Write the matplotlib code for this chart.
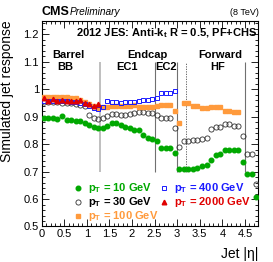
import matplotlib
matplotlib.use("Agg")
import matplotlib.pyplot as plt
from matplotlib.ticker import MultipleLocator, FuncFormatter

plt.rcParams['font.family'] = ['Liberation Sans', 'DejaVu Sans']
plt.rcParams['mathtext.fontset'] = 'custom'
plt.rcParams['mathtext.rm'] = 'Liberation Sans'
plt.rcParams['mathtext.it'] = 'Liberation Sans:italic'
plt.rcParams['mathtext.bf'] = 'Liberation Sans:bold'

# eta bin centres (0.1 wide bins, 0 - 4.8)
eta = [0.05, 0.15, 0.25, 0.35, 0.45, 0.55, 0.65, 0.75, 0.85, 0.95,
       1.05, 1.15, 1.25, 1.35, 1.45, 1.55, 1.65, 1.75, 1.85, 1.95,
       2.05, 2.15, 2.25, 2.35, 2.45, 2.55, 2.65, 2.75, 2.85, 2.95,
       3.05, 3.15, 3.25, 3.35, 3.45, 3.55, 3.65, 3.75, 3.85, 3.95,
       4.05, 4.15, 4.25, 4.35, 4.45, 4.55, 4.65, 4.75]

resp_pt10 = [0.896, 0.894, 0.894, 0.893, 0.904, 0.888, 0.888, 0.886, 0.883, 0.877,
             0.870, 0.864, 0.858, 0.858, 0.868, 0.876, 0.876, 0.870, 0.862, 0.858,
             0.852, 0.850, 0.834, 0.821, 0.820, 0.810, 0.786, 0.786, 0.786, 0.769,
             0.711, 0.711, 0.711, 0.711, 0.713, 0.720, 0.723, 0.743, 0.762, 0.764,
             0.777, 0.777, 0.777, 0.777, 0.736, 0.692, 0.692, 0.607]

resp_pt30 = [0.953, 0.953, 0.952, 0.952, 0.951, 0.950, 0.949, 0.946, 0.944, 0.938,
             0.905, 0.897, 0.892, 0.896, 0.904, 0.910, 0.910, 0.906, 0.906, 0.910,
             0.912, 0.916, 0.916, 0.914, 0.912, 0.906, 0.896, 0.896, 0.896, 0.858,
             0.789, 0.813, 0.813, 0.814, 0.815, 0.818, 0.822, 0.855, 0.862, 0.863,
             0.874, 0.874, 0.868, 0.868, 0.831, 0.763, 0.763, 0.654]

resp_pt100 = [0.973, 0.973, 0.972, 0.972, 0.971, 0.971, 0.970, 0.967, 0.962, 0.955,
              0.947, 0.940, 0.932, 0.935, 0.937, 0.938, 0.938, 0.938, 0.940, 0.940,
              0.942, 0.937, 0.937, 0.937, 0.937, 0.940, 0.942, 0.942, 0.942, 0.922,
              0.876, 0.951, 0.951, 0.938, 0.938, 0.931, 0.931, 0.936, 0.936, 0.936,
              0.922, 0.922, 0.916, 0.916]

resp_pt400 = [0.958, 0.958, 0.958, 0.957, 0.957, 0.956, 0.955, 0.954, 0.950, 0.945,
              0.940, 0.933, 0.930, 0.934, 0.958, 0.955, 0.955, 0.951, 0.953, 0.953,
              0.955, 0.959, 0.960, 0.961, 0.964, 0.970, 0.986, 0.986, 0.986, 0.993]

resp_pt2000 = [0.967, 0.959, 0.964, 0.959, 0.962, 0.959, 0.959, 0.957, 0.960, 0.950,
               0.946, 0.940, 0.945]

labels = [r'$\mathbf{p_T}$ = 10 GeV', r'$\mathbf{p_T}$ = 30 GeV', r'$\mathbf{p_T}$ = 100 GeV',
          r'$\mathbf{p_T}$ = 400 GeV', r'$\mathbf{p_T}$ = 2000 GeV']

boundaries = [1.3, 2.5, 3.0, 3.2, 4.5]
region_names = ['Barrel', 'Endcap', 'Forward']
region_names_x = [0.58, 2.34, 3.96]
sub_names = ['BB', 'EC1', 'EC2', 'HF']
sub_names_x = [0.52, 1.89, 2.75, 3.89]

c_green = '#00a800'
c_black = '#000000'
c_orange = '#ff9a3c'
c_blue = '#1a1aff'
c_red = '#e00000'

fig = plt.figure(figsize=(2.73, 2.62), dpi=100)
ax = fig.add_axes([0.1527, 0.1355, 0.794, 0.7855])

# boundaries
ax.vlines(boundaries[0], 0.7, 1.1, colors='#b4b4b4', linewidth=1.2, zorder=1)
ax.vlines(boundaries[1:3], 0.7, 1.1, colors='#707070', linewidth=0.8, zorder=1)
ax.vlines(boundaries[3], 0.7, 1.1, colors='#505050', linewidth=0.6, linestyles=(0, (1.5, 1.5)), zorder=1)
ax.vlines(boundaries[4], 0.7, 1.1, colors='#707070', linewidth=0.8, zorder=1)

ms = 3.3
h1, = ax.plot(eta[:len(resp_pt10)], resp_pt10, 'o', ms=ms, color=c_green, mec=c_green, ls='none', label=labels[0], zorder=3)
h2, = ax.plot(eta[:len(resp_pt30)], resp_pt30, 'o', ms=ms + 0.4, mfc='none', mec='#303030', mew=0.6, ls='none', label=labels[1], zorder=3)
h3, = ax.plot(eta[:len(resp_pt100)], resp_pt100, 's', ms=ms, color=c_orange, mec=c_orange, ls='none', label=labels[2], zorder=3)
h4, = ax.plot(eta[:len(resp_pt400)], resp_pt400, 's', ms=ms + 0.3, mfc='none', mec=c_blue, mew=0.7, ls='none', label=labels[3], zorder=4)
h5, = ax.plot(eta[:len(resp_pt2000)], resp_pt2000, '^', ms=ms, color=c_red, mec=c_red, ls='none', label=labels[4], zorder=5)

ax.set_xlim(0, 4.8)
ax.set_ylim(0.5, 1.25)
ax.xaxis.set_major_locator(MultipleLocator(0.5))
ax.xaxis.set_minor_locator(MultipleLocator(0.1))
ax.yaxis.set_major_locator(MultipleLocator(0.1))
ax.yaxis.set_minor_locator(MultipleLocator(0.02))
fmt = FuncFormatter(lambda v, p: '%g' % round(v, 2))
ax.xaxis.set_major_formatter(fmt)
ax.yaxis.set_major_formatter(fmt)
ax.tick_params(which='both', direction='in', top=True, right=True, labelsize=8, width=0.6, pad=2)
ax.tick_params(which='major', length=5)
ax.tick_params(which='minor', length=2.5)
for s in ax.spines.values():
    s.set_linewidth(0.8)

ax.set_ylabel('Simulated jet response', fontsize=10, loc='top')
ax.yaxis.set_label_coords(-0.13, 1.0)
ax.set_xlabel('Jet |η|', fontsize=10, loc='right')
ax.xaxis.set_label_coords(1.0, -0.1)

ax.text(0.995, 0.94, r'2012 JES: Anti-$\mathbf{k_t}$ R = 0.5, PF+CHS', transform=ax.transAxes,
        ha='right', va='center', fontsize=8, fontweight='bold')
for name, x in zip(region_names, region_names_x):
    ax.text(x, 1.125, name, ha='center', va='center', fontsize=8, fontweight='bold')
for name, x in zip(sub_names, sub_names_x):
    ax.text(x, 1.08, name, ha='center', va='center', fontsize=8, fontweight='bold')

fig.text(0.153, 0.943, 'CMS', fontsize=9, fontweight='bold', ha='left', va='baseline')
fig.text(0.254, 0.943, 'Preliminary', fontsize=7.3, style='italic', ha='left', va='baseline')
fig.text(0.949, 0.943, '(8 TeV)', fontsize=6.5, ha='right', va='baseline')

leg = ax.legend(handles=[h1, h2, h3, h4, h5], ncol=2, loc='lower left', bbox_to_anchor=(0.152, 0.015),
                frameon=False, prop={'weight': 'bold', 'size': 8},
                handlelength=0.6, handletextpad=0.6, columnspacing=0.2, labelspacing=0.0,
                borderaxespad=0, borderpad=0)
for t, c in zip(leg.get_texts(), [c_green, c_black, c_orange, c_blue, c_red]):
    t.set_color(c)

fig.savefig('out.png', dpi=100)
